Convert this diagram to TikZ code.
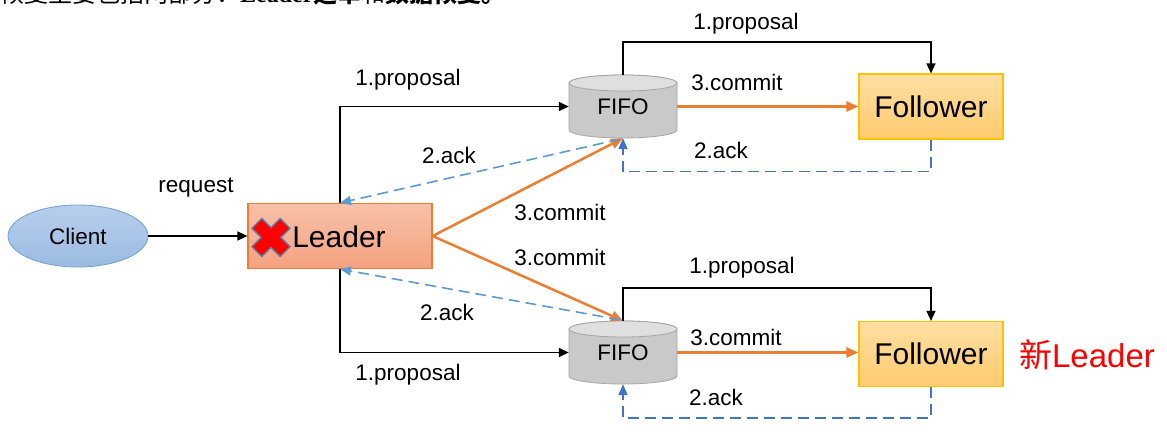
\documentclass[tikz,border=0pt]{standalone}
\usepackage{fontspec}
\setmainfont{Liberation Sans}
\newfontfamily\cjk{Noto Sans CJK SC}
\newfontfamily\serifb{Liberation Serif}
\usetikzlibrary{arrows.meta,shapes.geometric,calc}

\definecolor{orangec}{HTML}{ED7D31}
\definecolor{ackl}{HTML}{5B9BD5}
\definecolor{ackd}{HTML}{4472C4}
\definecolor{leadtop}{HTML}{F7C1A9}
\definecolor{leadbot}{HTML}{F4A27F}
\definecolor{foltop}{HTML}{FEDFA3}
\definecolor{folbot}{HTML}{FDCB6E}
\definecolor{folborder}{HTML}{FFC000}
\definecolor{clitop}{HTML}{B7CFEC}
\definecolor{clibot}{HTML}{9BBBE2}
\definecolor{cliborder}{HTML}{6B9FD6}
\definecolor{cylbody}{HTML}{C9C9C9}
\definecolor{cyltop}{HTML}{DFDFDF}
\definecolor{cylborder}{HTML}{A6A6A6}
\definecolor{xborder}{HTML}{5B7FA8}

\tikzset{
  lbl/.style={font=\fontsize{22.5}{26}\selectfont, inner sep=0pt},
  blk/.style={draw=black, line width=1.5pt, -{Triangle[length=10pt,width=9pt]}},
  com/.style={draw=orangec, line width=2.5pt, -{Triangle[length=12pt,width=10pt]}},
  ackone/.style={draw=ackl, line width=1.6pt, dash pattern=on 11pt off 6pt, -{Triangle[length=11pt,width=9pt]}},
  acktwo/.style={draw=ackd, line width=1.6pt, dash pattern=on 11pt off 6pt, -{Triangle[length=11pt,width=9pt]}},
  fifo/.style={rectangle, minimum width=108pt, minimum height=63pt, inner sep=0pt,
    font=\fontsize{22.5}{26}\selectfont},
  follower/.style={rectangle, draw=folborder, line width=1.2pt, top color=foltop, bottom color=folbot,
    minimum width=144pt, minimum height=65pt, inner sep=0pt, font=\fontsize{30}{34}\selectfont},
}

% grey drum centred at (#1,#2), 108 wide and 63 high
\newcommand\drumshape[2]{%
  \filldraw[fill=cylbody, draw=cylborder, line width=0.8pt]
    (#1-54,#2-23.5) -- (#1-54,#2+23.5)
    arc[start angle=180, end angle=360, x radius=54pt, y radius=8pt]
    -- (#1+54,#2-23.5)
    arc[start angle=0, end angle=180, x radius=54pt, y radius=8pt] -- cycle;
  \filldraw[fill=cyltop, draw=cylborder, line width=0.8pt]
    (#1,#2-23.5) ellipse[x radius=54pt, y radius=8pt];
}

\begin{document}
\begin{tikzpicture}[x=1pt, y=-1pt]
\useasboundingbox (0,0) rectangle (1167,436);

% heading line, cut by the upper edge
\begin{scope}
  \clip (0,0) rectangle (1167,436);
  \node[anchor=base west, inner sep=0pt, font=\fontsize{24}{26}\selectfont] (head) at (0,3)
    {{\cjk 恢复主要包括两部分：}{\serifb\bfseries Leader}{\cjk\bfseries 选举}{\cjk 和}{\cjk\bfseries 数据恢复。}};
\end{scope}

% drums
\drumshape{623}{106.5}
\drumshape{623}{352.5}

% nodes
\node[ellipse, draw=cliborder, line width=0.8pt, top color=clitop, bottom color=clibot,
      minimum width=140pt, minimum height=62pt, inner sep=0pt,
      font=\fontsize{22.5}{26}\selectfont] (cli) at (78,236) {Client};
\node[rectangle, draw=orangec, line width=1.2pt, top color=leadtop, bottom color=leadbot,
      minimum width=184pt, minimum height=65pt, inner sep=0pt] (lead) at (340,236) {};
\node[font=\fontsize{30}{34}\selectfont, inner sep=0pt] (leadtxt) at (339,237) {Leader};
\node[fifo] (f1) at (623,106.5) {\raisebox{-3pt}{FIFO}};
\node[fifo] (f2) at (623,352.5) {\raisebox{-3pt}{FIFO}};
\node[follower] (fo1) at (931,106.5) {Follower};
\node[follower] (fo2) at (931,354) {Follower};
\node[text=red, inner sep=0pt, font=\fontsize{33}{36}\selectfont] (newl) at (1087,355)
  {{\cjk 新}Leader};

% failed-leader cross
\begin{scope}[shift={(271,237.5)}, rotate=45]
  \filldraw[fill=red, draw=xborder, line width=1.3pt, line join=miter]
    (7,20) -- (7,7) -- (20,7) -- (20,-7) -- (7,-7) -- (7,-20) -- (-7,-20) -- (-7,-7)
    -- (-20,-7) -- (-20,7) -- (-7,7) -- (-7,20) -- cycle;
\end{scope}

% client request
\draw[blk] (cli.east) -- (lead.west);
\node[lbl] (req) at (196,188) {request};

% leader to drums
\draw[blk] (lead.north) |- (f1.west);
\draw[blk] (lead.south) |- (f2.west);
\node[lbl] (p1) at (408,80) {1.proposal};
\node[lbl] (p2) at (408,375) {1.proposal};

% commits from leader
\draw[com] (lead.east) -- (f1.south);
\draw[com] (lead.east) -- (f2.north);
\node[lbl] (c1) at (560,212) {3.commit};
\node[lbl] (c2) at (560,257) {3.commit};

% acks back to leader
\draw[ackone] ($(f1.south)+(-3,1)$) -- (lead.north);
\draw[ackone] ($(f2.north)+(-3,-1)$) -- (lead.south);
\node[lbl] (a1) at (449,155) {2.ack};
\node[lbl] (a2) at (447,312) {2.ack};

% upper follower
\draw[blk] (f1.north) -- ++(0,-33) -| (fo1.north);
\draw[com] (f1.east) -- (fo1.west);
\draw[acktwo] (fo1.south) -- ++(0,32) -| (f1.south);
\node[lbl] (p3) at (746,24) {1.proposal};
\node[lbl] (c3) at (737,82) {3.commit};
\node[lbl] (a3) at (721,150) {2.ack};

% lower follower
\draw[blk] (f2.north) -- ++(0,-33) -| (fo2.north);
\draw[com] (f2.east) -- (f2.east -| fo2.west);
\draw[acktwo] (fo2.south) -- ++(0,31) -| (f2.south);
\node[lbl] (p4) at (742,268) {1.proposal};
\node[lbl] (c4) at (736,337) {3.commit};
\node[lbl] (a4) at (716,397) {2.ack};
\end{tikzpicture}
\end{document}
